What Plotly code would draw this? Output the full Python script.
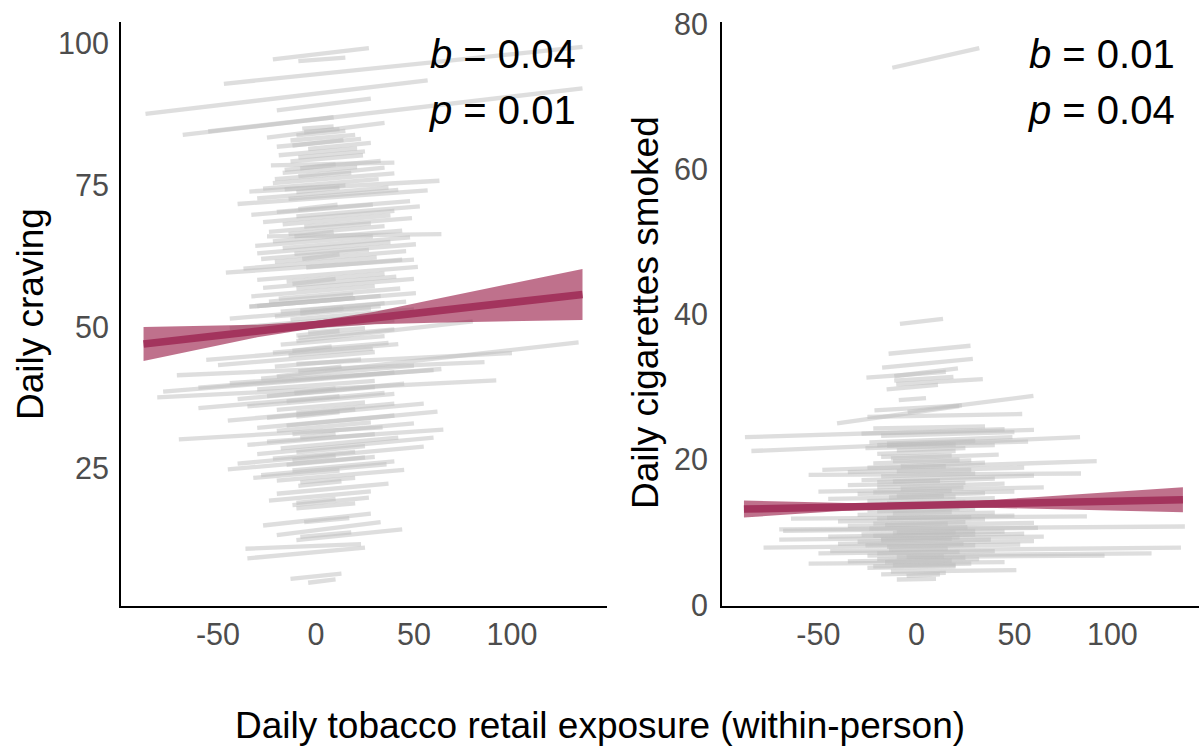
import plotly.graph_objects as go

# ---------------- Left panel: Daily craving ----------------
crav_x0 = [-22, -9, -47, -87, -20, -68, -55, -25, -7,
           -6, -10, -13, -20, -4, -19, -9, -13, -23, -16, -17, -9, -21, -22, -27, -16, -34, -30, -14, -40,
           -20, -33, -10, -27, -17, -6, -24, -14, -25, -22, -31, -17, -30, -11, -28, -21, -37, -5, -46, -30,
           -15, -27, -10, -33, -19, -24, -30, -34, -8, -21, -13,
           -34, -18, -44, -44, -15, -4, -9, -10, -18, -20, -22, -56, -14, -10, -50, -21, -71, -28, -44,
           -81, -78, -60, -30, -25, -40, -15, -35, -60, -20, -10, -25, -45, -15, -30, -20, -70, -12, -25,
           -35, -18, -30, -10, -22, -40, -15, -45, -12, -28, -32, -20, -8, -20, -24, -12, -10, -27, -20,
           -6, -10, -36, -35, -8, -13, -4,
           -12, -8, -10, -9, -11, -7, -12, -8, -10, -12, -9, -11, -10, -8, -12, -9, -10]
crav_x1 = [27, 15, 136, 57, 28, 136, 9, 35, 9,
           12, 15, 20, 23, 28, 21, 25, 24, 40, 33, 21, 35, 18, 40, 32, 15, 63, 37, 42, 57,
           48, 29, 53, 40, 38, 49, 28, 35, 64, 44, 29, 48, 38, 51, 27, 46, 31, 44, 50, 52,
           35, 41, 50, 30, 43, 19, 33, 51, 46, 28, 50,
           20, 35, 33, 43, 40, 25, 40, 80, 35, 134, 37, 42, 29, 100, 30, 23, 86, 50, 60,
           92, 64, 40, 30, 45, 30, 35, 40, 12, 25, 40, 55, 20, 62, 40, 28, 34, 50, 65,
           30, 42, 60, 25, 20, 55, 30, 25, 40, 36, 12, 45, 20, 37, 28, 27, 20, 28, 33,
           17, 44, 23, 25, 18, 13, 10,
           14, 10, 12, 11, 9, 12, 10, 14, 12, 8, 13, 10, 12, 10, 10, 13, 10]
crav_y0 = [97.2, 96.9, 92.9, 87.6, 88.2, 83.9, 84.5, 83.4, 85.0,
           84.4, 83.8, 82.9, 81.8, 81.4, 80.3, 79.9, 79.2, 78.5, 77.7, 77.2, 76.6, 76.1, 75.4, 74.4, 74.3, 73.9, 72.7, 72.6, 71.7,
           70.3, 69.8, 69.5, 68.5, 68.1, 67.7, 66.8, 66.4, 66.0, 65.1, 64.3, 63.9, 63.0, 62.9, 62.0, 61.5, 60.3, 60.5, 59.6, 58.3,
           58.0, 56.9, 56.8, 55.4, 55.0, 54.5, 53.7, 53.6, 52.9, 51.9, 51.3,
           53.6, 52.7, 51.5, 49.8, 49.6, 49.0, 48.1, 47.5, 46.9, 41.3, 45.5, 44.2, 45.0, 43.5, 43.3, 43.0, 41.5, 40.9, 40.1,
           37.6, 38.6, 39.3, 39.0, 37.8, 37.3, 36.9, 36.0, 35.7, 35.4, 34.9, 34.0, 33.5, 32.6, 32.2, 31.7, 30.2, 31.1, 29.8,
           29.2, 28.6, 27.6, 27.9, 26.8, 25.9, 25.7, 24.9, 24.7, 23.9, 23.4, 22.9, 22.6, 20.6, 19.4, 18.6, 18.0, 15.0, 13.3,
           15.6, 12.4, 10.9, 9.2, 13.0, 5.6, 4.9,
           82.0, 78.0, 73.8, 70.8, 66.0, 62.0, 57.6, 52.4, 48.5, 45.8, 42.2, 38.4, 34.2, 30.5, 26.5, 22.0, 19.0]
crav_y1 = [99.2, 97.5, 99.4, 93.5, 90.3, 92.1, 87.0, 86.0, 85.4,
           84.9, 84.6, 83.9, 83.2, 82.5, 81.5, 81.0, 80.3, 79.0, 79.3, 78.2, 78.1, 77.2, 77.1, 76.1, 75.0, 75.8, 74.6, 74.2, 74.1,
           72.2, 71.6, 71.3, 70.5, 69.7, 69.2, 68.3, 67.8, 66.4, 67.0, 66.0, 65.8, 65.0, 64.6, 63.6, 63.4, 62.3, 61.9, 61.9, 60.6,
           59.4, 58.9, 58.5, 57.2, 56.8, 55.7, 55.5, 56.0, 54.5, 53.3, 53.1,
           55.1, 54.2, 53.7, 52.3, 51.2, 49.8, 49.6, 51.0, 48.4, 47.3, 47.2, 47.0, 46.2, 45.4, 45.6, 44.3, 43.8, 43.2, 42.4,
           40.6, 42.6, 42.0, 40.5, 40.0, 39.4, 38.4, 38.2, 37.8, 36.7, 36.5, 36.5, 35.5, 35.1, 34.4, 33.2, 32.3, 33.0, 31.9,
           31.1, 30.5, 30.5, 29.0, 28.0, 28.9, 27.1, 27.0, 26.3, 25.8, 24.7, 24.8, 23.4, 22.4, 21.0, 19.9, 18.9, 17.1, 15.6,
           16.3, 14.3, 11.7, 11.1, 13.8, 6.5, 5.5,
           83.0, 78.7, 74.6, 71.6, 66.8, 62.8, 58.5, 53.3, 49.3, 46.6, 43.0, 39.2, 35.0, 31.2, 27.3, 22.8, 19.7]

# population fit for craving
crav_fit_x = [-88, -60, -30, 0, 30, 60, 100, 136]
crav_fit_y = [47.0, 48.1, 49.3, 50.45, 51.6, 52.8, 54.35, 55.75]
crav_fit_lo = [44.0, 46.05, 48.2, 49.85, 50.5, 50.75, 51.05, 51.25]
crav_fit_hi = [50.0, 50.15, 50.4, 51.05, 52.7, 54.85, 57.65, 60.25]

# ---------------- Right panel: Daily cigarettes smoked ----------------
cig_x0 = [-12.3, -8.4, -14.2, -17.5, -11.3, -25.5, -11.3, -10.3, -15.2, -9, -21.4, -4.5, -40.5, -25,
          -87.5, -84.2, -22, -28, -18, -24, -20, -15, -26, -10, -20, -13, -48, -22, -8, -35, -55, -18,
          -28, -12, -35, -20, -50, -30, -10, -45, -25, -15, -35, -20, -64, -30, -15, -40, -22, -70, -35,
          -68, -10, -28, -45, -70, -18, -30, -40, -78, -15, -44, -25, -5, -50, -20, -35, -55, -12, -25,
          -13, -18, -5, -10,
          -15, -18, -12, -25, -10, -20, -8, -22, -14, -18, -25, -12, -20, -16, -24, -12, -22, -18, -26,
          -14, -20, -10, -16, -22]
cig_x1 = [32.1, 13.6, 27.6, 28.8, 21.2, 15, 18.9, 33.9, 11, 4.9, 23.2, 59.7, 21.8, 54,
          45, 83.5, 35, 60, 50, 49, 57, 30, 40, 25, 20, 42, 92, 28, 35, 55, 84, 30,
          60, 40, 25, 45, 65, 50, 35, 20, 40, 25, 45, 30, 87, 40, 50, 35, 25, 137, 60,
          62, 30, 45, 55, 65, 22, 38, 60, 53, 30, 135, 120, 96, 40, 25, 32, 45, 28, 20,
          51, 15, 12, 10,
          20, 18, 22, 15, 28, 12, 24, 18, 14, 30, 22, 18, 28, 16, 26, 20, 30, 18, 24,
          16, 22, 14, 18, 20]
cig_y0 = [74.0, 38.7, 34.6, 32.7, 31.5, 31.3, 30.9, 30.4, 29.7, 28.2, 26.8, 26.6, 25.0, 25.9,
          23.1, 21.2, 24.3, 23.6, 23.3, 22.4, 22.0, 22.2, 21.6, 21.3, 20.8, 20.2, 18.6, 19.5, 19.1, 18.3, 17.9, 17.7,
          17.2, 17.0, 16.5, 16.2, 15.6, 15.3, 15.0, 14.6, 14.3, 14.0, 13.3, 12.9, 11.9, 12.4, 12.0, 11.5, 11.2, 10.4, 10.9,
          10.2, 10.0, 9.7, 9.4, 9.0, 9.1, 8.7, 8.4, 7.9, 8.0, 7.4, 6.8, 6.6, 7.1, 6.3, 6.0, 5.7, 5.5, 5.1,
          4.6, 4.2, 4.0, 3.5,
          21.9, 20.4, 19.8, 18.9, 18.4, 16.9, 16.0, 15.5, 14.8, 13.8, 13.0, 12.6, 11.9, 11.0, 10.5, 9.9, 9.5, 8.9, 8.2,
          7.6, 7.1, 6.6, 5.9, 5.3]
cig_y1 = [76.7, 39.4, 35.7, 33.9, 32.6, 32.1, 31.4, 31.1, 30.3, 28.5, 27.5, 28.8, 27.4, 26.3,
          24.2, 23.1, 24.6, 24.1, 23.8, 23.1, 22.5, 22.6, 22.0, 21.6, 21.2, 20.7, 19.8, 19.9, 19.6, 18.9, 18.1, 18.1,
          17.8, 17.4, 16.8, 16.7, 16.2, 15.6, 15.4, 14.9, 14.7, 14.2, 13.7, 13.2, 12.2, 12.7, 12.3, 11.8, 11.4, 10.8, 11.3,
          10.6, 10.2, 10.1, 9.8, 9.4, 9.3, 9.0, 8.8, 8.3, 8.2, 7.9, 7.1, 6.8, 7.4, 6.5, 6.3, 5.9, 5.7, 5.3,
          4.8, 4.4, 4.2, 3.6,
          22.1, 20.6, 20.0, 19.1, 18.6, 17.1, 16.2, 15.7, 15.0, 14.1, 13.3, 12.8, 12.1, 11.2, 10.7, 10.0, 9.7, 9.1, 8.4,
          7.8, 7.3, 6.7, 6.1, 5.5]

cig_fit_x = [-88, -60, -30, 0, 30, 60, 100, 136]
cig_fit_y = [13.2, 13.36, 13.54, 13.71, 13.88, 14.06, 14.29, 14.5]
cig_fit_lo = [12.03, 12.56, 13.09, 13.41, 13.43, 13.28, 13.02, 12.78]
cig_fit_hi = [14.37, 14.16, 13.99, 14.01, 14.33, 14.84, 15.56, 16.22]

x_ticks = [-50, 0, 50, 100]
x_tick_text = ["-50", "0", "50", "100"]
crav_ticks = [25, 50, 75, 100]
cig_ticks = [0, 20, 40, 60, 80]

stats_left = ["<i>b</i> = 0.04", "<i>p</i> = 0.01"]
stats_right = ["<i>b</i> = 0.01", "<i>p</i> = 0.04"]

FONT = "Liberation Sans, Arial, Helvetica, sans-serif"
GRAY = "rgba(190,190,190,0.5)"
RIBBON = "rgba(152,26,70,0.62)"
FITLINE = "#A3345D"
W, H = 1199, 753

fig = go.Figure()


def add_panel(x0s, x1s, y0s, y1s, fx, fy, flo, fhi, xa, ya):
    for a, b, c, d in zip(x0s, x1s, y0s, y1s):
        fig.add_trace(go.Scatter(x=[a, b], y=[c, d], mode="lines",
                                 line=dict(color=GRAY, width=4.3),
                                 hoverinfo="skip", showlegend=False,
                                 xaxis=xa, yaxis=ya))
    fig.add_trace(go.Scatter(x=list(fx) + list(fx)[::-1], y=list(fhi) + list(flo)[::-1],
                             mode="lines", fill="toself", fillcolor=RIBBON,
                             line=dict(width=0, color="rgba(0,0,0,0)"),
                             hoverinfo="skip", showlegend=False, xaxis=xa, yaxis=ya))
    fig.add_trace(go.Scatter(x=fx, y=fy, mode="lines",
                             line=dict(color=FITLINE, width=7.5),
                             hoverinfo="skip", showlegend=False, xaxis=xa, yaxis=ya))


add_panel(crav_x0, crav_x1, crav_y0, crav_y1, crav_fit_x, crav_fit_y, crav_fit_lo, crav_fit_hi, "x", "y")
add_panel(cig_x0, cig_x1, cig_y0, cig_y1, cig_fit_x, cig_fit_y, cig_fit_lo, cig_fit_hi, "x2", "y2")

ydom = [(753 - 606) / H, (753 - 22) / H]
axis_common = dict(showgrid=False, zeroline=False, showline=True, linecolor="black",
                   linewidth=2, ticks="outside", tickcolor="rgba(0,0,0,0)", automargin=False,
                   tickfont=dict(family=FONT, size=30.5, color="#4D4D4D"))

fig.update_layout(
    width=W, height=H, margin=dict(l=0, r=0, t=0, b=0, autoexpand=False),
    paper_bgcolor="white", plot_bgcolor="white", showlegend=False,
    xaxis=dict(domain=[121 / W, 606.6 / W], range=[-99.5, 148.3], anchor="y",
               tickvals=x_ticks, ticktext=x_tick_text, ticklen=0, **axis_common),
    yaxis=dict(domain=ydom, range=[0.8, 103.8], anchor="x",
               tickvals=crav_ticks, ticklen=4, **axis_common),
    xaxis2=dict(domain=[722 / W, 1.0], range=[-99.2, 144.2], anchor="y2",
                tickvals=x_ticks, ticktext=x_tick_text, ticklen=0, **axis_common),
    yaxis2=dict(domain=ydom, range=[-0.15, 80.3], anchor="x2",
                tickvals=cig_ticks, ticklen=6, **axis_common),
)

ann = []
for i, t in enumerate(stats_left):
    ann.append(dict(text=t, x=578 / W, y=(753 - (54 + 56 * i)) / H, xref="paper", yref="paper",
                    xanchor="right", yanchor="middle", showarrow=False,
                    font=dict(family=FONT, size=40, color="black")))
for i, t in enumerate(stats_right):
    ann.append(dict(text=t, x=1177 / W, y=(753 - (54 + 56 * i)) / H, xref="paper", yref="paper",
                    xanchor="right", yanchor="middle", showarrow=False,
                    font=dict(family=FONT, size=40, color="black")))
ann.append(dict(text="Daily craving", x=30 / W, y=(753 - 314) / H, xref="paper", yref="paper",
                textangle=-90, xanchor="center", yanchor="middle", showarrow=False,
                font=dict(family=FONT, size=37, color="black")))
ann.append(dict(text="Daily cigarettes smoked", x=645 / W, y=(753 - 313) / H, xref="paper", yref="paper",
                textangle=-90, xanchor="center", yanchor="middle", showarrow=False,
                font=dict(family=FONT, size=37, color="black")))
ann.append(dict(text="Daily tobacco retail exposure (within-person)", x=600 / W, y=(753 - 725) / H,
                xref="paper", yref="paper", xanchor="center", yanchor="middle", showarrow=False,
                font=dict(family=FONT, size=37, color="black")))
fig.update_layout(annotations=ann)

fig.write_html("out.html", config={"displayModeBar": False},
               post_script="document.body.style.margin='0';document.body.style.overflow='hidden';")
